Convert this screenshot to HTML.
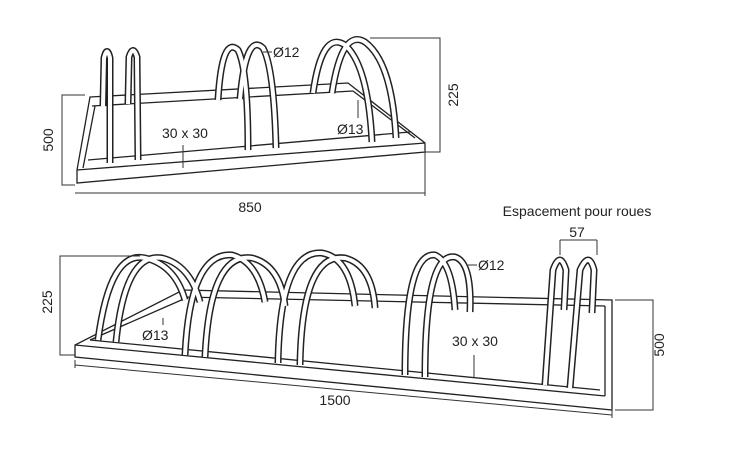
<!DOCTYPE html>
<html><head><meta charset="utf-8"><style>
body{margin:0;background:#fff}
svg{display:block}
text{font-family:"Liberation Sans",sans-serif;font-size:14px;fill:#222}
.t{fill:none;stroke:#222;stroke-width:7;stroke-linecap:butt}
.w{fill:none;stroke:#fff;stroke-width:4}
.l{fill:none;stroke:#222;stroke-width:1.3}
.d{fill:none;stroke:#333;stroke-width:1}
</style></head><body>
<svg width="732" height="450" viewBox="0 0 732 450">
<defs>
<path id="h1" d="M103,106 L104,58 Q107,45 110,58 L110,163"/>
<path id="h2" d="M128,104 L129,57 Q133,44 137,57 L138,160"/>
<path id="h3" d="M218,100 Q222,35 238,50 Q248,70 248,150"/>
<path id="h4" d="M240,99 Q246,32 263,48 Q274,68 276,148"/>
<path id="h5" d="M313,93 Q322,30 345,45 Q368,65 372,142"/>
<path id="h6" d="M332,93 Q342,28 365,42 Q392,62 396,138"/>
<path id="b1" d="M98,340 Q110,250 145,258 Q175,265 185,300"/>
<path id="b2" d="M116,342 Q125,252 162,258 Q190,265 200,302"/>
<path id="b3" d="M185,355 Q190,252 232,255 Q258,262 265,302"/>
<path id="b4" d="M205,357 Q210,252 252,258 Q280,265 285,306"/>
<path id="b5" d="M278,363 Q280,250 322,253 Q350,258 355,306"/>
<path id="b6" d="M300,365 Q302,252 345,258 Q372,265 375,308"/>
<path id="b7" d="M405,375 Q405,252 435,255 Q452,262 455,310"/>
<path id="b8" d="M425,377 Q425,252 455,257 Q472,262 470,312"/>
<path id="b9" d="M545,385 L553,270 Q560,250 566,270 L564,310"/>
<path id="b10" d="M570,388 L580,270 Q589,250 594,270 L592,313"/>
</defs>
<!-- TOP FRAME -->
<polygon points="90,97 348,83 425,143 425,152 77,183 77,170" fill="#fff" stroke="#222" stroke-width="1.3"/>
<line class="l" x1="92" y1="106" x2="353" y2="91"/>
<line class="l" x1="77" y1="170" x2="425" y2="143"/>
<line class="l" x1="88" y1="160" x2="410" y2="132"/>
<line class="l" x1="95" y1="106" x2="83" y2="168"/>
<line class="l" x1="353" y1="91" x2="415" y2="138"/>
<g class="t"><use href="#h1"/><use href="#h2"/><use href="#h3"/><use href="#h4"/><use href="#h5"/><use href="#h6"/></g>
<g class="w"><use href="#h1"/><use href="#h2"/><use href="#h3"/><use href="#h4"/><use href="#h5"/><use href="#h6"/></g>
<!-- top dims -->
<path class="d" d="M85,95 H62 V185 H75"/>
<path class="d" d="M370,38 H440 V152 H425"/>
<path class="d" d="M75,193 L425,193 M425,150 V196"/>
<text transform="translate(53,140) rotate(-90)" text-anchor="middle">500</text>
<text transform="translate(458,95) rotate(-90)" text-anchor="middle">225</text>
<text x="250" y="212" text-anchor="middle">850</text>
<text x="273" y="57">Ø12</text>
<line class="d" x1="263" y1="52" x2="272" y2="52"/>
<text x="162" y="138">30 x 30</text>
<line class="d" x1="183" y1="145" x2="183" y2="168"/>
<text x="337" y="134">Ø13</text>
<line class="d" x1="358" y1="100" x2="358" y2="118"/>

<!-- BOTTOM FRAME -->
<polygon points="183,290 612,300 612,410 75,357 75,345" fill="#fff" stroke="#222" stroke-width="1.3"/>
<line class="l" x1="183" y1="297" x2="605" y2="306"/>
<line class="l" x1="75" y1="345" x2="605" y2="396"/>
<line class="l" x1="90" y1="340" x2="600" y2="390"/>
<line class="l" x1="186" y1="298" x2="90" y2="340"/>
<line class="l" x1="605" y1="306" x2="605" y2="396"/>
<g class="t"><use href="#b1"/><use href="#b2"/><use href="#b3"/><use href="#b4"/><use href="#b5"/><use href="#b6"/><use href="#b7"/><use href="#b8"/><use href="#b9"/><use href="#b10"/></g>
<g class="w"><use href="#b1"/><use href="#b2"/><use href="#b3"/><use href="#b4"/><use href="#b5"/><use href="#b6"/><use href="#b7"/><use href="#b8"/><use href="#b9"/><use href="#b10"/></g>
<!-- bottom dims -->
<path class="d" d="M140,256 H60 V355 H75"/>
<path class="d" d="M615,300 H653 V410 H615"/>
<path class="d" d="M75,365 L612,415 M75,360 V368 M612,408 V418"/>
<text transform="translate(52,302) rotate(-90)" text-anchor="middle">225</text>
<text transform="translate(664,345) rotate(-90)" text-anchor="middle">500</text>
<text x="335" y="405" text-anchor="middle">1500</text>
<text x="577" y="216" text-anchor="middle" font-size="13">Espacement pour roues</text>
<text x="577" y="237" text-anchor="middle">57</text>
<path class="d" d="M560,240 H597 M560,240 V255 M597,240 V255"/>
<text x="478" y="270">Ø12</text>
<line class="d" x1="468" y1="265" x2="477" y2="265"/>
<text x="142" y="340">Ø13</text>
<line class="d" x1="163" y1="318" x2="163" y2="325"/>
<text x="452" y="346">30 x 30</text>
<line class="d" x1="474" y1="355" x2="474" y2="378"/>
</svg>
</body></html>
